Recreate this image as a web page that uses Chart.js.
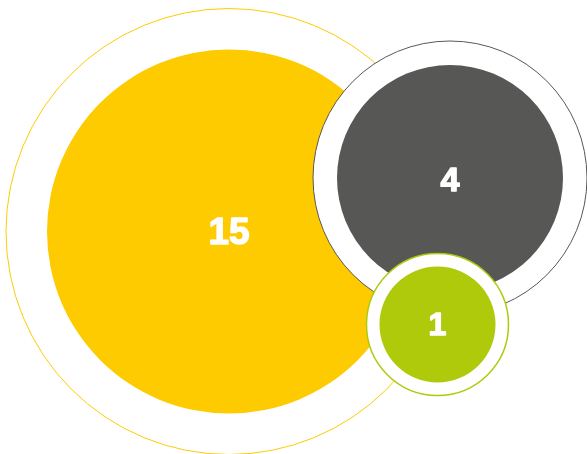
<!DOCTYPE html>
<html>
<head>
<meta charset="utf-8">
<script src="https://cdn.jsdelivr.net/npm/chart.js@4/dist/chart.umd.min.js"></script>
<style>
  html, body { margin: 0; padding: 0; background: #ffffff; }
  #wrap { width: 587px; height: 454px; position: relative; }
</style>
</head>
<body>
<div id="wrap"><canvas id="c" width="587" height="454"></canvas></div>
<script>
// ---- data ----
const categories = ['A', 'B', 'C'];
const values = [15, 4, 1];

// ---- layout / style (pixels, not data) ----
const centersX = [229, 450, 437.5];
const centersY = [231.5, 178, 324.5];
const innerR = [182, 113, 58];
const outerR = [223, 137, 71];
const colors = ['#FECB00', '#575756', '#AFCA0B'];
const ringWidths = [1, 1, 1.5];
const fontSizes = [37, 34, 32];
const labelDy = [2, 4, 2];

const datasets = [];
categories.forEach((cat, i) => {
  const base = (categories.length - i) * 2;
  datasets.push({
    label: cat + ' ring',
    data: [{ x: centersX[i], y: centersY[i], r: outerR[i] }],
    backgroundColor: '#ffffff',
    borderColor: colors[i],
    borderWidth: ringWidths[i],
    hoverRadius: 0,
    clip: false,
    order: base
  });
  datasets.push({
    label: cat,
    data: [{ x: centersX[i], y: centersY[i], r: innerR[i] }],
    backgroundColor: colors[i],
    borderWidth: 0,
    hoverRadius: 0,
    clip: false,
    order: base - 1,
    valueIndex: i
  });
});

const labelPlugin = {
  id: 'valueLabels',
  afterDatasetsDraw(chart) {
    const ctx = chart.ctx;
    chart.data.datasets.forEach((ds, di) => {
      if (ds.valueIndex === undefined) return;
      const i = ds.valueIndex;
      const el = chart.getDatasetMeta(di).data[0];
      ctx.save();
      ctx.fillStyle = '#ffffff';
      ctx.strokeStyle = '#ffffff';
      ctx.lineWidth = 1.4;
      ctx.lineJoin = 'round';
      ctx.font = 'bold ' + fontSizes[i] + 'px "Liberation Sans", Arial, sans-serif';
      ctx.textAlign = 'center';
      ctx.textBaseline = 'middle';
      ctx.fillText(String(values[i]), el.x, el.y + labelDy[i]);
      ctx.strokeText(String(values[i]), el.x, el.y + labelDy[i]);
      ctx.restore();
    });
  }
};

new Chart(document.getElementById('c'), {
  type: 'bubble',
  data: { datasets },
  options: {
    responsive: false,
    animation: false,
    events: [],
    layout: { padding: 0, autoPadding: false },
    plugins: { legend: { display: false }, tooltip: { enabled: false } },
    scales: {
      x: { type: 'linear', min: 0, max: 587, display: false },
      y: { type: 'linear', min: 0, max: 454, reverse: true, display: false }
    }
  },
  plugins: [labelPlugin]
});
</script>
</body>
</html>
